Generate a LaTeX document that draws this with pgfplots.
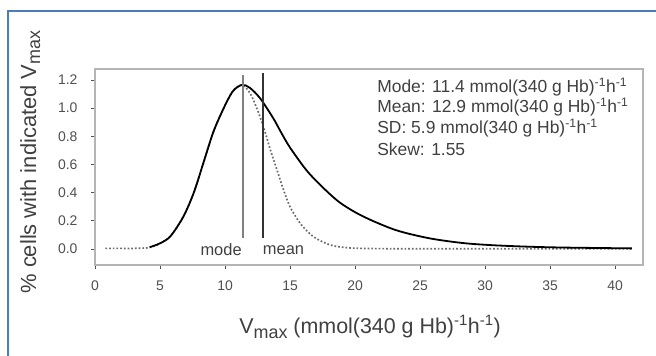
\documentclass[border=0pt]{standalone}
\usepackage{pgfplots}
\pgfplotsset{compat=1.18}
\usepackage{fontspec}
\setmainfont{Liberation Sans}
\definecolor{bluebrd}{HTML}{4A7EBB}
\definecolor{axgray}{HTML}{B4B4B4}
\definecolor{txtgray}{HTML}{404040}
\definecolor{tickgray}{HTML}{505050}
\begin{document}
\begin{tikzpicture}
\path[use as bounding box, fill=white] (0,0) rectangle (656bp,356bp);
\draw[bluebrd, line width=2bp] (8bp,0) -- (8bp,345bp) -- (656bp,345bp);
\begin{axis}[
  at={(95bp,91bp)}, anchor=south west,
  scale only axis, width=548bp, height=196bp,
  xmin=0, xmax=42.15, ymin=-0.114, ymax=1.278,
  axis line style={axgray, line width=1.3bp},
  xtick={0,5,...,40}, ytick={0,0.2,...,1.2},
  tick style={tickgray, line width=0.8bp},
  tick align=outside, major tick length=4bp,
  xtick pos=bottom, ytick pos=left,
  /pgf/number format/assume math mode=true,
  yticklabel style={/pgf/number format/fixed, /pgf/number format/fixed zerofill, /pgf/number format/precision=1, font=\fontsize{14}{16}\selectfont, text=tickgray, xshift=-10bp},
  xticklabel style={font=\fontsize{14}{16}\selectfont, text=tickgray, yshift=-8bp},
  ylabel={\% cells with indicated V\raisebox{-0.35ex}{\fontsize{18}{20}\selectfont max}},
  ylabel style={at={(axis description cs:-0.118,0.525)}, anchor=center, font=\fontsize{22}{24}\selectfont, text=txtgray},
  xlabel={V\raisebox{-0.45ex}{\fontsize{18}{20}\selectfont max} (mmol(340 g Hb)\textsuperscript{-1}h\textsuperscript{-1})},
  xlabel style={at={(axis description cs:0.502,-0.316)}, anchor=center, font=\fontsize{21.5}{24}\selectfont, text=txtgray},
  clip=false,
]
% dotted (gray) distribution
\addplot[gray!85!black, dotted, line width=1.7bp, smooth] coordinates {
(0.8,0.004) (2.0,0.004) (3.0,0.004) (4.2,0.01) (5.0,0.04) (5.8,0.09) (6.8,0.23) (7.6,0.40) (8.3,0.60) (9.1,0.83) (9.9,1.00) (10.6,1.12) (11.3,1.165)
(11.9,1.11) (12.4,1.01) (12.95,0.87) (13.5,0.70) (14.0,0.56) (14.5,0.42) (15.0,0.30) (15.8,0.18) (16.8,0.087) (18.1,0.028) (19.5,0.008) (21,0.003) (23,0.002) (27,0.002) (32,0.002) (36,0.002) (41.3,0.002)
};
% solid distribution
\addplot[black, line width=1.8bp, smooth] coordinates {
(4.2,0.012) (5.0,0.04) (5.8,0.09) (6.8,0.23) (7.6,0.40) (8.3,0.60) (9.1,0.83) (9.9,1.00) (10.6,1.12) (11.3,1.165)
(11.9,1.145) (12.7,1.07) (13.7,0.93) (14.3,0.83) (15.0,0.72) (16.3,0.555) (17.6,0.43) (18.9,0.325) (20.6,0.232) (23.1,0.135) (25.7,0.076) (28.2,0.043) (30.3,0.028) (33.0,0.017) (36.0,0.010) (41.3,0.004)
};
% mode and mean lines
\addplot[color=gray, line width=1.6bp] coordinates {(11.4,0.078) (11.4,1.237)};
\addplot[color=black!80, line width=1.6bp] coordinates {(12.9,0.078) (12.9,1.249)};
\node[font=\fontsize{16.5}{18}\selectfont, text=txtgray, anchor=center] at (axis cs:9.7,-0.007) {mode};
\node[font=\fontsize{16.5}{18}\selectfont, text=txtgray, anchor=center] at (axis cs:14.5,-0.007) {mean};
\node[font=\fontsize{17.5}{20}\selectfont, text=txtgray, anchor=base west, inner sep=0pt] at (axis cs:21.7,1.109) {Mode: 11.4 mmol(340 g Hb)\textsuperscript{-1}h\textsuperscript{-1}};
\node[font=\fontsize{17.5}{20}\selectfont, text=txtgray, anchor=base west, inner sep=0pt] at (axis cs:21.7,0.967) {Mean: 12.9 mmol(340 g Hb)\textsuperscript{-1}h\textsuperscript{-1}};
\node[font=\fontsize{17.5}{20}\selectfont, text=txtgray, anchor=base west, inner sep=0pt] at (axis cs:21.7,0.817) {SD: 5.9 mmol(340 g Hb)\textsuperscript{-1}h\textsuperscript{-1}};
\node[font=\fontsize{17.5}{20}\selectfont, text=txtgray, anchor=base west, inner sep=0pt] at (axis cs:21.7,0.661) {Skew: 1.55};
\end{axis}
\end{tikzpicture}
\end{document}
